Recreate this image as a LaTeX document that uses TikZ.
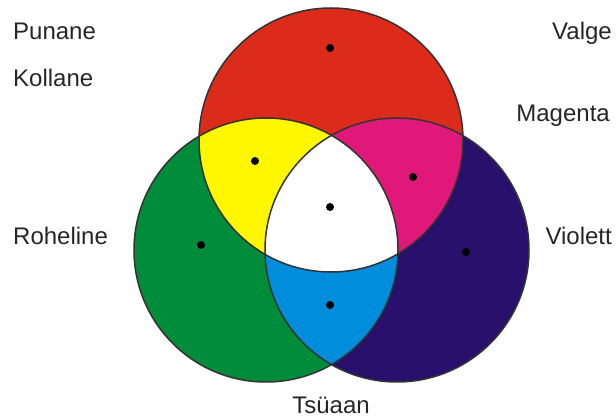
\documentclass[tikz,border=0pt]{standalone}
\usepackage{fontspec}
\setmainfont{Liberation Sans}
\usetikzlibrary{positioning}
\definecolor{punane}{RGB}{220,43,26}
\definecolor{kollane}{RGB}{255,247,0}
\definecolor{magenta}{RGB}{224,24,122}
\definecolor{violett}{RGB}{40,16,108}
\definecolor{roheline}{RGB}{0,140,58}
\definecolor{tsuaan}{RGB}{0,142,220}
\tikzset{
  dot/.style={circle,fill=black,inner sep=0pt,minimum size=8pt},
  lbl/.style={font=\fontsize{24}{28}\selectfont,text=black!85,inner sep=0pt},
  rim/.style={draw=black!80,line width=1.5pt}
}

\begin{document}
\begin{tikzpicture}[x=1pt,y=-1pt]
\useasboundingbox (0,0) rectangle (616,419);
\coordinate (R) at (331,140);
\coordinate (G) at (266,250);
\coordinate (V) at (397,250);
\def\rad{132pt}
% base circles
\fill[roheline] (G) circle[radius=\rad];
\fill[violett] (V) circle[radius=\rad];
\fill[punane] (R) circle[radius=\rad];
% overlaps
\begin{scope}
\clip (G) circle[radius=\rad];
\fill[tsuaan] (V) circle[radius=\rad];
\end{scope}
\begin{scope}
\clip (R) circle[radius=\rad];
\fill[kollane] (G) circle[radius=\rad];
\fill[magenta] (V) circle[radius=\rad];
\clip (G) circle[radius=\rad];
\fill[white] (V) circle[radius=\rad];
\end{scope}
\draw[rim] (G) circle[radius=\rad];
\draw[rim] (V) circle[radius=\rad];
\draw[rim] (R) circle[radius=\rad];

\node[dot] (dR) at (330,48) {};
\node[dot] (dY) at (255,161) {};
\node[dot] (dM) at (413,177) {};
\node[dot] (dW) at (330,207) {};
\node[dot] (dG) at (201,245) {};
\node[dot] (dV) at (466,252) {};
\node[dot] (dC) at (330,305) {};

\node[lbl,anchor=base west] (lPunane) at (13,40) {Punane};
\node[lbl,anchor=base west] (lKollane) at (13,87) {Kollane};
\node[lbl,anchor=base west] (lRoheline) at (13,245) {Roheline};
\node[lbl,anchor=base east] (lValge) at (612,40) {Valge};
\node[lbl,anchor=base east] (lMagenta) at (610,122) {Magenta};
\node[lbl,anchor=base east] (lViolett) at (612,245) {Violett};
\node[lbl,anchor=base] (lTsuaan) at (331,414) {Tsüaan};
\end{tikzpicture}
\end{document}
